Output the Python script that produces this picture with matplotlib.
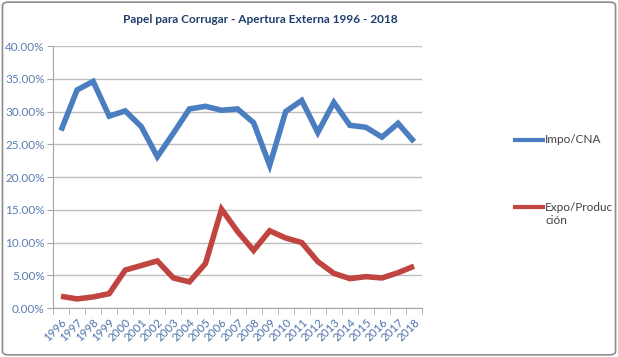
import matplotlib
matplotlib.use('Agg')
import matplotlib.pyplot as plt
from matplotlib.lines import Line2D
from matplotlib.patches import FancyBboxPatch
from matplotlib.ticker import FuncFormatter

years = [str(y) for y in range(1996, 2019)]
impo_cna = [27.1, 33.3, 34.6, 29.3, 30.1, 27.7, 23.1, 26.7, 30.4, 30.8, 30.2, 30.4,
            28.3, 21.8, 30.0, 31.7, 26.8, 31.4, 27.9, 27.6, 26.1, 28.2, 25.4]
expo_prod = [1.8, 1.4, 1.7, 2.2, 5.8, 6.5, 7.2, 4.6, 4.0, 6.8, 15.1, 11.7,
             8.8, 11.8, 10.7, 10.0, 7.1, 5.3, 4.5, 4.8, 4.6, 5.4, 6.4]

plt.rcParams['font.family'] = ['Lato', 'DejaVu Sans']

fig = plt.figure(figsize=(6.18, 3.57), dpi=100)
ax = fig.add_axes([0.0858, 0.137, 0.5972, 0.734])

x = range(len(years))
blue = '#4A7EC0'
red = '#C0443F'
ax.plot(x, impo_cna, color=blue, lw=4, solid_capstyle='butt', solid_joinstyle='miter')
ax.plot(x, expo_prod, color=red, lw=4, solid_capstyle='butt', solid_joinstyle='miter')

ax.set_xlim(-0.5, len(years) - 0.5)
ax.set_ylim(0, 40)
ax.set_yticks(range(0, 41, 5))
ax.yaxis.set_major_formatter(FuncFormatter(lambda v, p: f'{v:.2f}%'))
ax.grid(axis='y', color='#BFBFBF', lw=1)
ax.set_axisbelow(True)

ax.set_xticks(list(x))
ax.set_xticklabels(years, rotation=45, ha='right', rotation_mode='anchor')
ax.set_xticks([i - 0.5 for i in range(len(years) + 1)], minor=True)
ax.tick_params(axis='x', which='major', length=0, pad=6, labelsize=8.3, labelcolor='#4F72A8')
ax.tick_params(axis='x', which='minor', length=4, color='#A6A6A6')
ax.tick_params(axis='y', length=4, color='#A6A6A6', labelsize=8.5, labelcolor='#5B7DB1', pad=2)

for s in ['top', 'right']:
    ax.spines[s].set_visible(False)
ax.spines['left'].set_color('#A6A6A6')
ax.spines['bottom'].set_color('#A6A6A6')

fig.text(0.421, 0.945, 'Papel para Corrugar - Apertura Externa 1996 - 2018',
         ha='center', va='center', fontsize=8.6, fontweight='bold', color='#1F3E6E')

# legend
fig.add_artist(Line2D([515/618, 543/618], [1 - 140/357, 1 - 140/357], color=blue, lw=3))
fig.text(545/618, 1 - 140/357, 'Impo/CNA', ha='left', va='center', fontsize=8.5, color='#404040')
fig.add_artist(Line2D([515/618, 543/618], [1 - 207/357, 1 - 207/357], color=red, lw=3))
fig.text(545/618, 1 - 207/357, 'Expo/Produc', ha='left', va='center', fontsize=8.5, color='#404040')
fig.text(545/618, 1 - 220/357, 'ción', ha='left', va='center', fontsize=8.5, color='#404040')

fig.add_artist(FancyBboxPatch((0.004, 0.006), 0.992, 0.988, boxstyle='round,pad=0,rounding_size=0.01',
                              transform=fig.transFigure, fill=False, edgecolor='#8C8C8C', lw=1.2))

plt.savefig('out.png', dpi=100)
